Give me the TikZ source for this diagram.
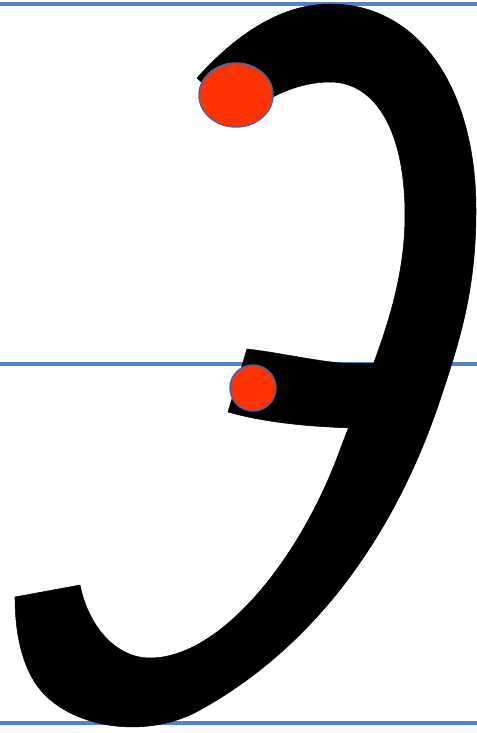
\documentclass[tikz,border=0pt]{standalone}
\usepackage{tikz}

\definecolor{guideblue}{RGB}{79,129,204}
\definecolor{dotred}{RGB}{255,51,0}
\definecolor{dotrim}{RGB}{68,100,170}

\tikzset{
  guide/.style={draw=guideblue, line width=3pt},
  ink/.style={fill=black, draw=black, line width=0.4pt, line join=round},
  startdot/.style={fill=dotred, draw=dotrim, line width=1.1pt}
}

\begin{document}
\begin{tikzpicture}[x=0.75pt,y=0.75pt,yscale=-1,xscale=1]
\useasboundingbox (0,0) rectangle (477,733);

%Straight Lines: guide lines
\draw [guide] (0,4) -- (477,4) ;
\draw [guide] (0,364) -- (477,364) ;
\draw [guide] (0,723) -- (477,723) ;

%Shape: main stroke
\path [ink] (197,78) .. controls (240,30) and (285,4) .. (330,4)
  .. controls (420,4) and (476,90) .. (476,210)
  .. controls (476,290) and (460,340) .. (440,400)
  .. controls (405,505) and (335,635) .. (200,710)
  .. controls (150,738) and (80,730) .. (45,695)
  .. controls (25,675) and (15,640) .. (15,597)
  -- (80,585)
  .. controls (88,625) and (115,658) .. (150,658)
  .. controls (220,658) and (300,560) .. (340,450)
  .. controls (370,370) and (405,300) .. (405,215)
  .. controls (405,130) and (375,82) .. (330,82)
  .. controls (300,82) and (270,95) .. (240,118)
  -- cycle ;

%Shape: cross bar
\path [ink] (247,349) .. controls (275,352) and (310,360) .. (340,363) -- (385,364) -- (378,430) -- (353,428) .. controls (320,427) and (270,424) .. (228,412) -- cycle ;

%Shape: start dots
\draw [startdot] (236,95) ellipse [x radius=37, y radius=32] ;
\draw [startdot] (253,388) circle [radius=23] ;

\end{tikzpicture}
\end{document}
